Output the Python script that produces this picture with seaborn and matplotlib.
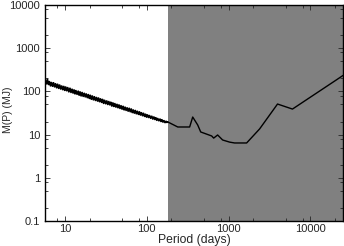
import matplotlib
matplotlib.use("Agg")
import matplotlib.pyplot as plt
import seaborn as sns
import pandas as pd
from matplotlib.ticker import FixedLocator, LogLocator, NullFormatter

# noisy short-period part (days, Jupiter masses)
period_noisy = [5.75, 5.92, 6.10, 6.28, 6.46, 6.65, 6.84, 7.04, 7.24, 7.45,
                7.67, 7.90, 8.13, 8.37, 8.61, 8.86, 9.12, 9.39, 9.66, 9.93,
                10.2, 10.5, 10.8, 11.15, 11.5, 11.85, 12.2, 12.55, 12.9, 13.25,
                13.6, 14.05, 14.5, 14.9, 15.3, 15.75, 16.2, 16.7, 17.2, 17.7,
                18.2, 18.75, 19.3, 19.85, 20.4, 21.0, 21.6, 22.25, 22.9, 23.6,
                24.3, 25.0, 25.7, 26.45, 27.2, 28.0, 28.8, 29.65, 30.5, 31.45,
                32.4, 33.35, 34.3, 35.3, 36.3, 37.4, 38.5, 39.6, 40.7, 41.95,
                43.2, 44.45, 45.7, 47.05, 48.4, 49.85, 51.3, 52.8, 54.3, 55.9,
                57.5, 59.2, 61.0, 62.8, 64.6, 66.5, 68.4, 70.4, 72.4, 74.5,
                76.7, 79.0, 81.3, 83.7, 86.1, 88.6, 91.2, 93.9, 96.6, 99.3,
                102, 105, 108, 111.5, 115, 118.5, 122, 125.5, 129, 132.5,
                136, 140.5, 145, 149, 153, 157.5, 162, 167, 172, 176]
mass_noisy = [178, 150, 190, 145, 168, 135, 160, 132, 158, 128,
              150, 122, 146, 118, 140, 114, 133, 110, 130, 106,
              126, 104, 122, 98, 118, 95, 112, 92, 108, 88,
              104, 86, 101, 82, 97, 79, 94, 77, 90, 75,
              87, 72, 84, 69, 81, 66, 78, 64, 75, 62,
              72, 60, 70, 58, 67, 56, 65, 53, 62, 52,
              60, 50, 58, 49, 56, 46, 54, 45, 52, 43.5,
              50, 42, 48.5, 40.5, 46.5, 39, 45, 37.5, 43, 36.5,
              41.5, 35, 40.5, 34, 39, 32.5, 37, 31.5, 36, 30.5,
              34.5, 29.5, 33.5, 28.5, 32, 27.5, 31, 26.5, 29.5, 25.5,
              28.5, 25, 27.5, 24, 26.5, 23, 25.5, 22.5, 24.5, 21.5,
              23.5, 21, 22.8, 20.2, 22, 19.6, 21, 19, 20.3, 19.2]
# long-period part
period_long = [180, 191, 239, 334, 364, 419, 456, 621, 657, 734, 845, 1028,
               1183, 1660, 2390, 3960, 6030, 20700, 25000]
mass_long = [19.6, 18.6, 15, 15, 25.5, 16.7, 11.5, 9.3, 8.3, 9.8, 7.5, 6.7,
             6.4, 6.4, 13.5, 51, 39, 184, 234]

shade_start = 180
y_ticks = [0.1, 1, 10, 100, 1000, 10000]
y_labels = ["0.1", "1", "10", "100", "1000", "10000"]
x_ticks = [10, 100, 1000, 10000]
x_labels = ["10", "100", "1000", "10000"]

df_noisy = pd.DataFrame({"period": period_noisy + period_long[:1],
                         "mass": mass_noisy + mass_long[:1]})
df_long = pd.DataFrame({"period": period_long, "mass": mass_long})

sns.set_style("ticks")
plt.rcParams["font.family"] = ["Liberation Sans", "DejaVu Sans"]

fig = plt.figure(figsize=(3.44, 2.46), dpi=100)
ax = fig.add_axes([45/344, 25/246, 298/344, 216/246])
ax.set_xscale("log")
ax.set_yscale("log")
ax.set_xlim(5.7, 25000)
ax.set_ylim(0.1, 10000)
ax.axvspan(shade_start, 25000, color="#808080", lw=0, zorder=0)
sns.lineplot(data=df_noisy, x="period", y="mass", ax=ax, color="black",
             lw=1.3, sort=False, estimator=None, zorder=3)
sns.lineplot(data=df_long, x="period", y="mass", ax=ax, color="black",
             lw=1.0, sort=False, estimator=None, zorder=3)

ax.xaxis.set_major_locator(FixedLocator(x_ticks))
ax.set_xticklabels(x_labels)
ax.yaxis.set_major_locator(FixedLocator(y_ticks))
ax.set_yticklabels(y_labels)
ax.xaxis.set_minor_locator(LogLocator(base=10, subs=(2, 5, 8)))
ax.yaxis.set_minor_locator(LogLocator(base=10, subs=(2, 5, 8)))
ax.xaxis.set_minor_formatter(NullFormatter())
ax.yaxis.set_minor_formatter(NullFormatter())
ax.tick_params(which="both", direction="in", top=True, right=True,
               labelsize=8, width=0.6)
ax.tick_params(axis="y", pad=3.5)
ax.tick_params(axis="x", pad=2)
ax.tick_params(which="major", length=3.5)
ax.tick_params(which="minor", length=2)
for s in ax.spines.values():
    s.set_linewidth(1.0)
    s.set_color("black")
ax.set_xlabel("Period (days)", fontsize=8.7)
ax.xaxis.set_label_coords(0.5, -0.058)
ax.set_ylabel("M(P) (MJ)", fontsize=7.5)
ax.yaxis.set_label_coords(-0.107, 0.514)

fig.savefig("out.png", dpi=100)
